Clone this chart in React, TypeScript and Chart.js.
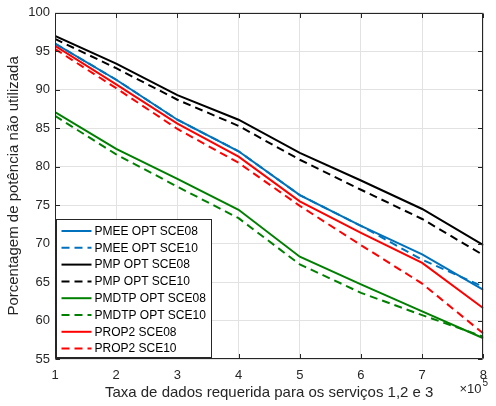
import React, { useEffect, useRef } from "react";
import { Chart, registerables } from "chart.js";

Chart.register(...registerables);

// ---- data ----
const xValues = [1, 2, 3, 4, 5, 6, 7, 8];
const pmeeOptSce08 = [96.0, 91.3, 86.1, 82.0, 76.3, 72.3, 68.6, 64.0];
const pmeeOptSce10 = [96.0, 91.3, 86.1, 82.0, 76.3, 72.3, 67.9, 64.4];
const pmpOptSce08 = [97.0, 93.4, 89.3, 86.1, 81.8, 78.2, 74.5, 69.8];
const pmpOptSce10 = [96.6, 92.8, 88.7, 85.3, 80.9, 77.0, 73.2, 68.5];
const pmdtpOptSce08 = [87.1, 82.3, 78.4, 74.4, 68.3, 64.7, 61.2, 57.7];
const pmdtpOptSce10 = [86.6, 81.6, 77.4, 73.3, 67.3, 63.6, 60.7, 57.9];
const prop2Sce08 = [95.7, 90.7, 85.6, 81.3, 75.5, 71.4, 67.5, 61.6];
const prop2Sce10 = [95.3, 90.2, 84.9, 80.5, 74.9, 69.8, 64.8, 58.3];

const seriesLabels = [
  "PMEE OPT SCE08",
  "PMEE OPT SCE10",
  "PMP OPT SCE08",
  "PMP OPT SCE10",
  "PMDTP OPT SCE08",
  "PMDTP OPT SCE10",
  "PROP2 SCE08",
  "PROP2 SCE10",
];
const seriesValues = [
  pmeeOptSce08,
  pmeeOptSce10,
  pmpOptSce08,
  pmpOptSce10,
  pmdtpOptSce08,
  pmdtpOptSce10,
  prop2Sce08,
  prop2Sce10,
];
const seriesColors = ["#0072BD", "#0072BD", "#000000", "#000000", "#008000", "#008000", "#FF0000", "#FF0000"];
const seriesDashed = [false, true, false, true, false, true, false, true];

const xTitle = "Taxa de dados requerida para os serviços 1,2 e 3";
const yTitle = "Porcentagem de potência não utilizada";
const xExponent = "5";
const xMin = 1;
const xMax = 8;
const yMin = 55;
const yMax = 100;
const yStep = 5;

// ---- styling ----
const FONT = '"Liberation Sans", Arial, Helvetica, sans-serif';
const AXIS_COLOR = "#262626";
const GRID_COLOR = "#e2e2e2";
const DASH = [8, 5];

const matlabPlugin = {
  id: "matlabDecor",
  afterDraw(chart: any) {
    const { ctx, chartArea } = chart;
    const xs = chart.scales.x;
    const ys = chart.scales.y;
    const L = Math.round(chartArea.left) + 0.5;
    const R = Math.round(chartArea.right) - 0.5;
    const T = Math.round(chartArea.top) + 0.5;
    const B = Math.round(chartArea.bottom) - 0.5;
    ctx.save();
    ctx.strokeStyle = AXIS_COLOR;
    ctx.lineWidth = 1;
    ctx.setLineDash([]);
    ctx.beginPath();
    ctx.rect(L, T, R - L, B - T);
    ctx.stroke();
    const tl = 4.5;
    ctx.beginPath();
    xs.ticks.forEach((t: any) => {
      const px = Math.round(xs.getPixelForValue(t.value)) + 0.5;
      ctx.moveTo(px, B);
      ctx.lineTo(px, B - tl);
      ctx.moveTo(px, T);
      ctx.lineTo(px, T + tl);
    });
    ys.ticks.forEach((t: any) => {
      const py = Math.round(ys.getPixelForValue(t.value)) + 0.5;
      ctx.moveTo(L, py);
      ctx.lineTo(L + tl, py);
      ctx.moveTo(R, py);
      ctx.lineTo(R - tl, py);
    });
    ctx.stroke();

    // exponent label
    ctx.fillStyle = AXIS_COLOR;
    ctx.textBaseline = "middle";
    ctx.textAlign = "left";
    ctx.font = `13px ${FONT}`;
    const base = "\u00d710";
    const ex = chartArea.right - 24;
    const ey = chartArea.bottom + 30;
    ctx.fillText(base, ex, ey);
    const w = ctx.measureText(base).width;
    ctx.font = `10px ${FONT}`;
    ctx.fillText(xExponent, ex + w + 1, ey - 6);

    // legend
    const lx = Math.round(chartArea.left) + 1.5;
    const ly = 219.5;
    const lw = 155;
    const lh = 138;
    ctx.fillStyle = "#ffffff";
    ctx.fillRect(lx, ly, lw, lh);
    ctx.strokeStyle = AXIS_COLOR;
    ctx.lineWidth = 1;
    ctx.strokeRect(lx, ly, lw, lh);
    const ds = chart.data.datasets;
    ctx.font = `12px ${FONT}`;
    ctx.textBaseline = "middle";
    ds.forEach((d: any, i: number) => {
      const cy = 231 + i * 16.8;
      ctx.strokeStyle = d.borderColor;
      ctx.lineWidth = 2;
      ctx.setLineDash(d.borderDash || []);
      ctx.beginPath();
      ctx.moveTo(lx + 5, cy);
      ctx.lineTo(lx + 35, cy);
      ctx.stroke();
      ctx.setLineDash([]);
      ctx.fillStyle = "#000000";
      ctx.fillText(d.label, lx + 38, cy + 0.5);
    });
    ctx.restore();
  },
};

export default function App() {
  const canvasRef = useRef<HTMLCanvasElement | null>(null);

  useEffect(() => {
    document.body.style.margin = "0";
    const canvas = canvasRef.current;
    if (!canvas) return;
    const datasets = seriesValues.map((vals, i) => ({
      label: seriesLabels[i],
      data: xValues.map((x, j) => ({ x, y: vals[j] })),
      borderColor: seriesColors[i],
      backgroundColor: seriesColors[i],
      borderWidth: 2,
      borderDash: seriesDashed[i] ? DASH : [],
      pointRadius: 0,
      tension: 0,
      fill: false,
      order: seriesValues.length - i,
    }));
    const chart = new Chart(canvas, {
      type: "line",
      data: { datasets },
      options: {
        responsive: false,
        animation: false,
        devicePixelRatio: 1,
        layout: { autoPadding: false, padding: { top: 11, right: 1, left: 0, bottom: 0 } },
        plugins: {
          legend: { display: false },
          tooltip: { enabled: false },
        },
        scales: {
          x: {
            type: "linear",
            min: xMin,
            max: xMax,
            afterFit: (s: any) => {
              s.height = 47;
            },
            ticks: {
              stepSize: 1,
              color: AXIS_COLOR,
              font: { family: FONT, size: 13 },
              padding: 9,
              maxRotation: 0,
            },
            grid: { color: GRID_COLOR, drawTicks: false, lineWidth: 1 },
            border: { display: false },
            title: {
              display: true,
              text: xTitle,
              color: AXIS_COLOR,
              font: { family: FONT, size: 15 },
              padding: { top: 0, bottom: 4 },
            },
          },
          y: {
            type: "linear",
            min: yMin,
            max: yMax,
            afterFit: (s: any) => {
              s.width = 55;
            },
            ticks: {
              stepSize: yStep,
              color: AXIS_COLOR,
              font: { family: FONT, size: 13 },
              padding: 5,
            },
            grid: { color: GRID_COLOR, drawTicks: false, lineWidth: 1 },
            border: { display: false },
            title: {
              display: true,
              text: yTitle,
              color: AXIS_COLOR,
              font: { family: FONT, size: 15 },
              padding: { top: 5, bottom: 0 },
            },
          },
        },
      },
      plugins: [matlabPlugin],
    });
    return () => chart.destroy();
  }, []);

  return (
    <div style={{ position: "absolute", left: 0, top: 0, width: 496, height: 406, background: "#fff" }}>
      <canvas ref={canvasRef} width={496} height={406} style={{ display: "block" }} />
    </div>
  );
}
